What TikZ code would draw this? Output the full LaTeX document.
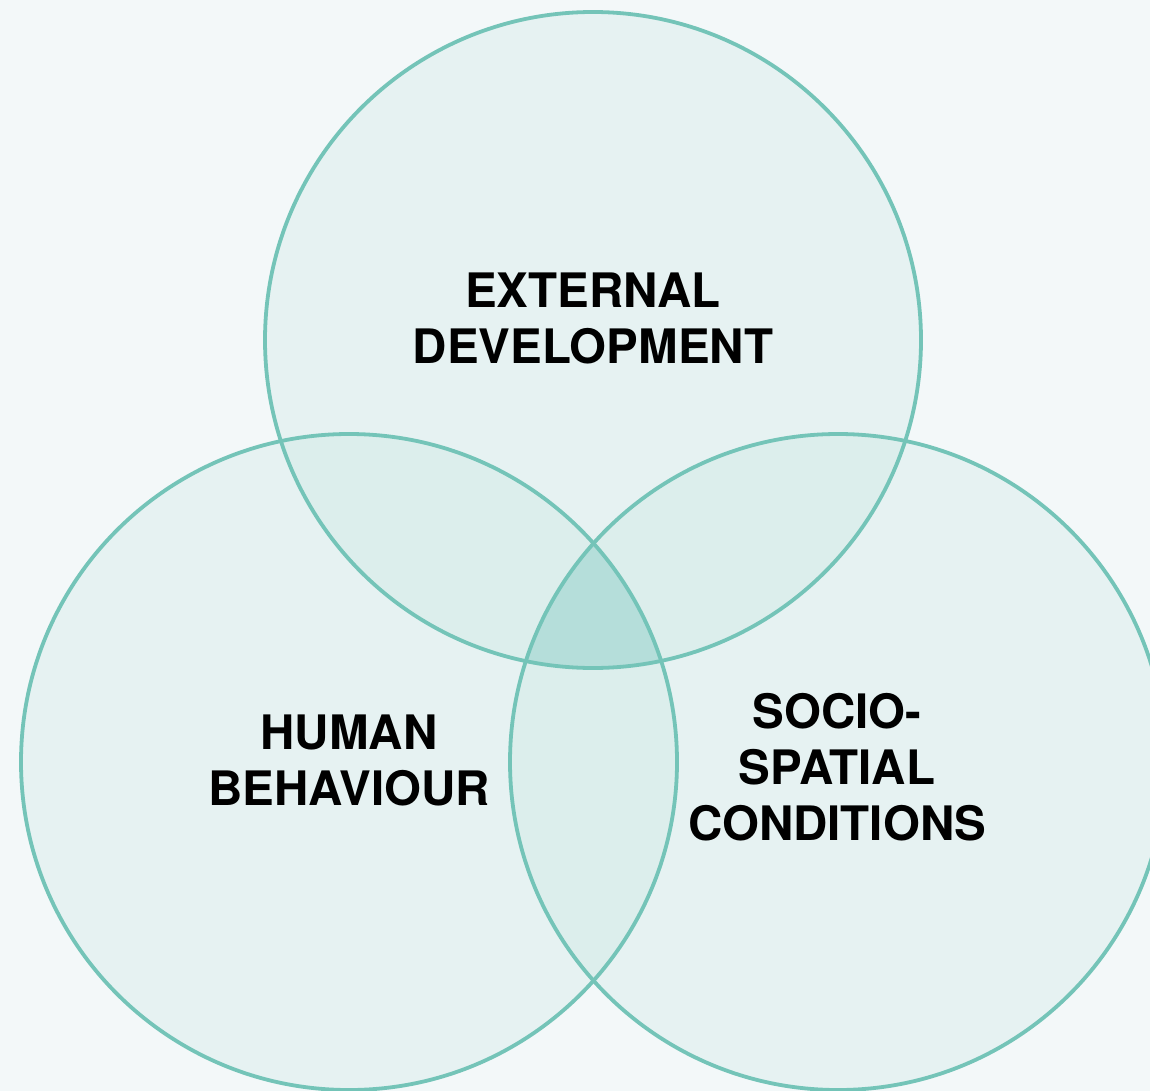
\documentclass[tikz,border=0pt]{standalone}
\usepackage{fontspec}
\setmainfont{TeX Gyre Heros}
\definecolor{bgc}{RGB}{243,248,249}
\definecolor{onec}{RGB}{230,242,242}
\definecolor{twoc}{RGB}{220,238,236}
\definecolor{threec}{RGB}{181,222,218}
\definecolor{edgec}{RGB}{116,196,184}
\tikzset{
  ring/.style={draw=edgec, line width=3.8pt},
  lbl/.style={font=\fontsize{47.5}{56}\selectfont\bfseries, align=center, text=black, inner sep=0pt}
}
\begin{document}
\begin{tikzpicture}[x=1pt,y=-1pt]
\fill[bgc] (0,0) rectangle (1150,1091);
\useasboundingbox (0,0) rectangle (1150,1091);
\def\R{328}
\coordinate (T) at (593,340);
\coordinate (L) at (349,762);
\coordinate (S) at (838,762);
\begin{scope}
\clip (0,0) rectangle (1150,1091);
\fill[onec] (T) circle (\R);
\fill[onec] (L) circle (\R);
\fill[onec] (S) circle (\R);
\begin{scope}\clip (T) circle (\R); \fill[twoc] (L) circle (\R); \fill[twoc] (S) circle (\R); \end{scope}
\begin{scope}\clip (L) circle (\R); \fill[twoc] (S) circle (\R); \end{scope}
\begin{scope}\clip (T) circle (\R); \clip (L) circle (\R); \fill[threec] (S) circle (\R); \end{scope}
\draw[ring] (T) circle (\R);
\draw[ring] (L) circle (\R);
\draw[ring] (S) circle (\R);
\end{scope}
\node[lbl] (ext) at (593,318) {EXTERNAL\\DEVELOPMENT};
\node[lbl] (hum) at (349,760) {HUMAN\\BEHAVIOUR};
\node[lbl] (soc) at (837,767) {SOCIO-\\SPATIAL\\CONDITIONS};
\end{tikzpicture}
\end{document}
